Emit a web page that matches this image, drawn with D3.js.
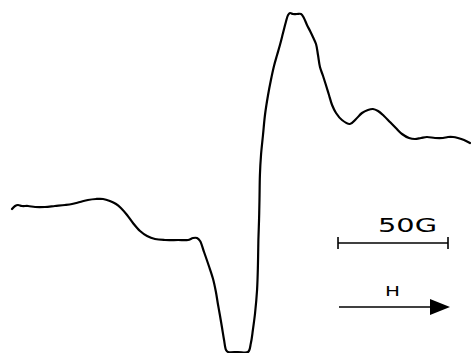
<!DOCTYPE html>
<html>
<head>
<meta charset="utf-8">
<script src="https://cdn.jsdelivr.net/npm/d3@7"></script>
<style>
  html, body { margin: 0; padding: 0; background: #fff; }
  svg { display: block; }
</style>
</head>
<body>
<svg id="chart" width="471" height="353"></svg>
<script>
// EPR first-derivative spectrum: field offset (G) and signal (arbitrary units)
const field = [
  0, 1.4, 2.7, 4.5, 7.3, 10.5, 15, 19.5, 24.1, 27.3, 30.9, 34.5, 38.2, 41.4, 44.5,
  47.3, 49.5, 52.3, 55, 58.2, 61.4, 65, 69.5, 75.5, 80, 82.3, 84.1, 85.5, 87.3, 89.5,
  91.4, 92.7, 93.6, 94.5, 95.5, 96.4, 97.3, 98.2, 102.7, 107.3, 108.6, 109.5, 110.5,
  111.4, 111.8, 112.0, 112.3, 112.5, 112.7, 113.2, 114.1, 115, 116.4, 117.7, 119.1,
  120.5, 121.8, 123.2, 124.5, 125.5, 126.4, 127.7, 129.5, 131.4, 132.7, 134.1, 135.5,
  136.8, 138.2, 139.1, 140, 141.4, 142.7, 144.1, 145.5, 147.3, 150, 153.6, 156.4,
  159.1, 161.8, 164.1, 166.4, 169.1, 171.8, 174.5, 177.3, 180.5, 183.2, 185.9, 188.6,
  192.3, 195.9, 198.2, 200.5, 202.7, 205.5, 208.2
];
const signal = [
  143, 146, 147, 146, 146, 145, 145, 146, 147, 148, 150, 152, 153, 153, 151,
  148, 144, 137, 129, 121, 116, 113, 112, 112, 112, 114, 114, 111, 100, 86,
  73, 60, 48, 37, 24, 12, 2, 0, 0, 0, 9, 22, 39,
  62, 87, 112, 132, 152, 177, 197, 217, 237, 257, 272, 286,
  297, 307, 319, 330, 337, 339, 338, 338, 338, 334, 327, 321,
  315, 308, 297, 285, 276, 267, 257, 247, 239, 232, 228, 233,
  239, 242, 243, 241, 236, 230, 224, 218, 214, 213, 214, 215,
  214, 214, 215, 215, 214, 212, 209
];

// Field-scale marker and field-direction arrow
const scaleBarStart = 148.2;   // G
const scaleBarLength = 50;     // G
const scaleBarLabel = "50G";
const arrowLabel = "H";

const svg = d3.select("#chart");

const x = d3.scaleLinear().domain([0, 208.2]).range([12, 470]);
const y = d3.scaleLinear().domain([0, 339]).range([352, 13]);

const pts = field.map((f, i) => [f, signal[i]]);

svg.append("path")
  .datum(pts)
  .attr("fill", "none")
  .attr("stroke", "#000")
  .attr("stroke-width", 2.2)
  .attr("stroke-linejoin", "round")
  .attr("stroke-linecap", "round")
  .attr("d", d3.line().x(d => x(d[0])).y(d => y(d[1])).curve(d3.curveCatmullRom.alpha(0.5)));

// 50 G scale bar
const bx0 = x(scaleBarStart), bx1 = x(scaleBarStart + scaleBarLength), by = 243;
const bar = svg.append("g").attr("stroke", "#000").attr("stroke-width", 1.6);
bar.append("line").attr("x1", bx0).attr("x2", bx1).attr("y1", by).attr("y2", by);
bar.append("line").attr("x1", bx0).attr("x2", bx0).attr("y1", by - 6).attr("y2", by + 6);
bar.append("line").attr("x1", bx1).attr("x2", bx1).attr("y1", by - 6).attr("y2", by + 6);

svg.append("text")
  .attr("x", 378).attr("y", 232)
  .attr("font-family", "DejaVu Sans")
  .attr("font-size", 19)
  .attr("textLength", 59)
  .attr("lengthAdjust", "spacingAndGlyphs")
  .attr("fill", "#000")
  .text(scaleBarLabel);

// Field direction arrow
const ay = 307, ax0 = 339, ax1 = 450;
svg.append("line")
  .attr("x1", ax0).attr("x2", ax1 - 14).attr("y1", ay).attr("y2", ay)
  .attr("stroke", "#000").attr("stroke-width", 1.6);
svg.append("path")
  .attr("d", `M${ax1 - 20},${ay - 8} L${ax1},${ay} L${ax1 - 20},${ay + 8} Z`)
  .attr("fill", "#000");

svg.append("text")
  .attr("x", 385).attr("y", 296)
  .attr("font-family", "DejaVu Sans")
  .attr("font-size", 14)
  .attr("textLength", 15)
  .attr("lengthAdjust", "spacingAndGlyphs")
  .attr("fill", "#000")
  .text(arrowLabel);
</script>
</body>
</html>
